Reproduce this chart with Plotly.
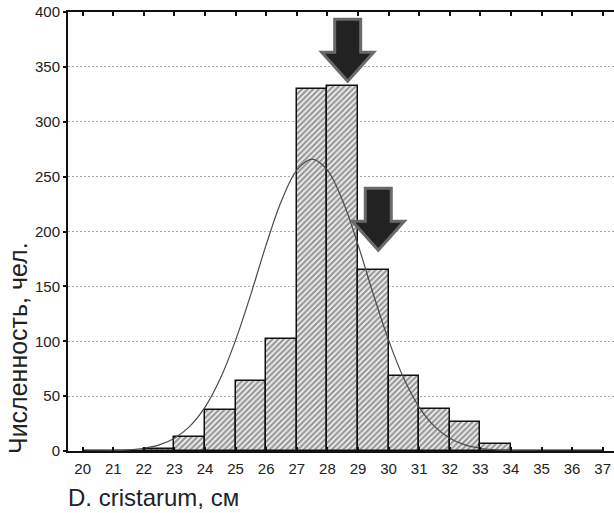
import plotly.graph_objects as go

# ---- data ----
bin_lower = [20, 21, 22, 23, 24, 25, 26, 27, 28, 29, 30, 31, 32, 33, 34, 35, 36]
counts    = [0, 0, 2, 13, 37, 64, 102, 330, 333, 165, 68, 38, 26, 6, 0, 0, 0]

curve_x = [20, 20.5, 21, 21.5, 22, 22.5, 23, 23.5, 24, 24.5, 25, 25.5, 26, 26.5,
           27, 27.5, 28, 28.5, 29, 29.5, 30, 30.5, 31, 31.5, 32, 32.5, 33, 33.5,
           34, 34.5, 35, 36, 37]
curve_y = [0.0, 0.1, 0.4, 1.0, 2.5, 5.6, 11.7, 22.5, 40, 66, 101, 143, 188, 228,
           256, 266, 256, 228, 188, 143, 101, 66, 40, 22.5, 11.7, 5.6, 2.5, 1.0,
           0.4, 0.1, 0.0, 0.0, 0.0]

x_ticks = list(range(20, 38))
y_ticks = [0, 50, 100, 150, 200, 250, 300, 350, 400]

arrow_bins = [28, 29]      # bins marked with arrows
arrow_tips = [337, 183]    # arrow tip heights (count units)

x_title = "D. cristarum, см"
y_title = "Численность, чел."

FONT = "Liberation Sans, Arial, sans-serif"

fig = go.Figure()

fig.add_trace(go.Bar(
    x=[b + 0.5 for b in bin_lower],
    y=counts,
    width=1.0,
    marker=dict(
        color="#ffffff",
        line=dict(color="#111111", width=1.5),
        pattern=dict(shape="/", fgcolor="#3a3a3a", bgcolor="#ececec",
                     size=4, solidity=0.5),
    ),
    showlegend=False,
    hoverinfo="skip",
))

fig.add_trace(go.Scatter(
    x=curve_x, y=curve_y, mode="lines", line_shape="spline",
    line=dict(color="#4a4a4a", width=1.2),
    showlegend=False, hoverinfo="skip",
))

# arrows (pixel-sized, anchored above the marked bars)
dx = 5
def arrow_path():
    pts = [(0, 0), (26, 29), (13, 29), (13, 62), (-13, 62), (-13, 29), (-26, 29)]
    return "M " + " L ".join(f"{px + dx},{py}" for px, py in pts) + " Z"

for b, tip in zip(arrow_bins, arrow_tips):
    fig.add_shape(
        type="path", xref="x", yref="y",
        xsizemode="pixel", ysizemode="pixel",
        xanchor=b + 0.5, yanchor=tip,
        path=arrow_path(),
        fillcolor="#222222",
        line=dict(color="#6a6a6a", width=3),
        layer="above",
    )

fig.update_layout(
    width=614, height=513,
    margin=dict(l=68, r=0, t=12, b=62),
    plot_bgcolor="white", paper_bgcolor="white",
    bargap=0,
    font=dict(family=FONT, color="#222222", size=15),
    xaxis=dict(
        range=[19.52, 37.37],
        tickvals=x_ticks, ticktext=[str(v) for v in x_ticks],
        ticks="inside", ticklen=4, tickwidth=1.5, tickcolor="#111111",
        showline=True, linecolor="#111111", linewidth=2, mirror="allticks",
        showgrid=False, zeroline=False,
        ticklabelstandoff=3,
        tickfont=dict(size=15, color="#222222", family=FONT),
    ),
    yaxis=dict(
        range=[0, 400],
        tickvals=y_ticks, ticktext=[str(v) for v in y_ticks],
        ticks="outside", ticklen=3, tickwidth=1.5, tickcolor="#111111",
        showline=True, linecolor="#111111", linewidth=2,
        showgrid=True, gridcolor="#aaaaaa", gridwidth=1, griddash="2px,2px",
        zeroline=False,
        tickfont=dict(size=15, color="#222222", family=FONT),
    ),
    annotations=[
        dict(text=y_title, xref="paper", yref="paper", x=0, y=0.2346,
             xshift=-50, xanchor="center", yanchor="middle", textangle=-90,
             showarrow=False, font=dict(size=25, color="#222222", family=FONT)),
        dict(text=x_title, xref="paper", yref="paper", x=0, y=0,
             xshift=-2, yshift=-46, xanchor="left", yanchor="middle",
             showarrow=False, font=dict(size=24, color="#222222", family=FONT)),
    ],
)

fig.write_html("out.html")
